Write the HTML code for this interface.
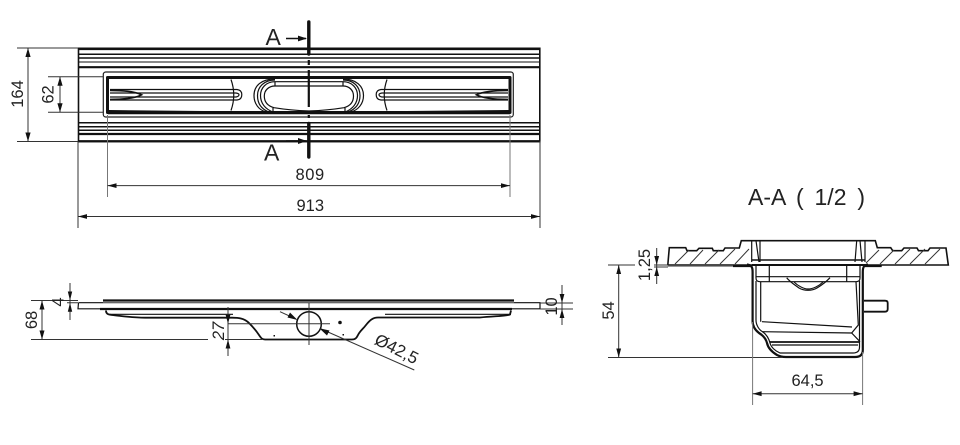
<!DOCTYPE html>
<html><head><meta charset="utf-8"><style>
html,body{margin:0;padding:0;background:#fff;width:960px;height:445px;overflow:hidden}
svg{display:block}
text{font-family:"Liberation Sans",sans-serif;fill:#222;font-size:16.5px}
.d{stroke:#333;stroke-width:1;fill:none}
.g{stroke:#777;stroke-width:1;fill:none}
.k{stroke:#111;stroke-width:1.2;fill:none}
.t{stroke:#111;stroke-width:2.2;fill:none}
.a{fill:#111;stroke:none}
</style></head><body>
<svg width="960" height="445" viewBox="0 0 960 445" xmlns="http://www.w3.org/2000/svg">
<defs>
<g id="slot">
<path class="k" d="M110 89.5H237Q241.8 90 241.8 94.7Q241.8 99.5 237 100H110"/>
<path class="k" d="M110 93H236Q239 93.5 239 94.7Q239 96.2 236 97H110"/>
<path class="t" d="M110 90.4C125 90.4 136 92 141.6 94.8C136 97.8 125 99.4 110 99.4" style="stroke-width:1.6"/>
<path class="k" d="M231 79.5Q236.5 95 231 110.5"/>
</g>
</defs>

<!-- PLAN VIEW -->
<g>
<rect x="78.5" y="48.3" width="461.3" height="93.3" fill="none" stroke="#111" stroke-width="1.6"/>
<path stroke="#111" stroke-width="1.5" fill="none" d="M78 54.2H540M78 58H540M78 122.7H540M78 126.7H540M78 130.2H540"/>
<path stroke="#111" stroke-width="1" fill="none" d="M78 62H540"/>
<path stroke="#111" stroke-width="2.2" fill="none" d="M78 49H540M78 67.2H540M78 134H540M78 141.2H540"/>
<rect x="103.3" y="72" width="410" height="45" rx="2.5" fill="#fff" stroke="#222" stroke-width="1.2"/>
<path d="M107.5 77.5H510V112.5H107.5Z" fill="#fff" stroke="#111" stroke-width="3" stroke-linejoin="round"/>
<use href="#slot"/>
<use href="#slot" transform="matrix(-1 0 0 1 618 0)"/>
<path class="a" d="M108 110L260 111.5L358 111.5L510 110V114.2H108Z"/>
<!-- centre oval -->
<path class="k" d="M275 79C261 79 254 86 254 95.5C254 104 259 110 266 112M343 79C356 79 363.5 86 363.5 95.5C363.5 104 358 110 351 112"/>
<path class="k" d="M275 80C264 80 257.5 87 257.5 95.5C257.5 103 261 109 269 112M343 80C354 80 360 87 360 95.5C360 103 356 109 348 112"/>
<path class="k" d="M275 81.7C266 81.7 260.5 88 260.5 95.5C260.5 103 265 109 273 112M343 81.7C352 81.7 357.5 88 357.5 95.5C357.5 103 353 109 345 112"/>
<path class="k" d="M275 86C269 86 264.3 90 264.3 96C264.3 102 268 106 274 107.7C285 109.5 295 110.5 309 111C323 110.5 333 109.5 344 107.7C350 106 353.5 102 353.5 96C353.5 90 349 86 343 86Z" style="fill:#fff"/>
<path class="k" d="M275 81.7H343M275 81.7V86M343 81.7V86M273 107.7V112M345 107.7V112"/>
<!-- section line -->
<path stroke="#111" stroke-width="3.4" stroke-linecap="round" fill="none" d="M308.8 22V54M308.8 123.5V157"/>
<path stroke="#111" stroke-width="2.2" fill="none" d="M308.8 60V65M308.8 70V107M308.8 115V118"/>
<path class="k" style="stroke-width:1.5" d="M286 38.5H306M286 141H306" />
<path class="a" d="M307 38.5L298 35.6V41.4ZM307 141L298 138V144Z"/>
<text x="265.5" y="45" style="font-size:23px">A</text>
<text x="264" y="160.5" style="font-size:23px">A</text>
<!-- dims -->
<path class="d" d="M17 48H78M17 141.5H78M48 76.7H103M48 112.3H103M28 48V141.5M60 76.7V112.3"/>
<path class="a" d="M28 48L25.4 57H30.6ZM28 141.5L25.4 132.5H30.6ZM60 76.7L57.4 85.7H62.6ZM60 112.3L57.4 103.3H62.6Z"/>
<text transform="translate(23,94) rotate(-90)" text-anchor="middle">164</text>
<text transform="translate(53.5,94.5) rotate(-90)" text-anchor="middle">62</text>
<path class="g" d="M107.5 115V197M510 115V197"/>
<path class="d" d="M78 141V228M540 141V228M107.5 185.6H510M78 216.5H540"/>
<path class="a" d="M107.5 185.6L116.5 183.2V188ZM510 185.6L501 183.2V188ZM78 216.5L87 214.1V218.9ZM540 216.5L531 214.1V218.9Z"/>
<text x="295.5" y="180" style="letter-spacing:.6px">809</text>
<text x="296.5" y="211">913</text>
</g>

<!-- SIDE VIEW -->
<g>
<path class="t" d="M103 300.5H514"/>
<path class="d" d="M103 302.7H514"/>
<path class="k" d="M78.5 302.7H103M78.5 302.7L78 308.8H103M514 302.7H540V308.8H512"/>
<path class="t" d="M100 309H512"/>
<path class="k" style="stroke-width:1.8" d="M106 310.5C106 314 108 314.5 112 315C122 316 132 317.7 145 317.7H232C238 317.7 244 318 249 323C254 328 257 332 259 335C261 338 262 339.5 265 339.5H352C356 339.5 357 337 358 335C360 331 363 329 366 325C370 320 373 317.5 378 317.5H480C495 316 508 316 510 314.5L511 310.5"/>
<path class="k" d="M110 314.3H233M385 314.3H511"/>
<circle cx="309" cy="324" r="12.3" fill="#fff" stroke="#111" stroke-width="1.5"/>
<path class="d" d="M228 323.7H330M309 303V345"/>
<circle cx="340" cy="322.5" r="1.8" fill="#111"/>
<rect x="273.5" y="335" width="1.5" height="1.5" fill="#111"/>
<rect x="342.5" y="334" width="1.5" height="1.5" fill="#111"/>
<path class="d" d="M31 300.5H78M31 339.5H208M225 339.5H262M42 300.5V339.5"/>
<path class="a" d="M42 300.5L39.5 309.5H44.5ZM42 339.5L39.5 330.5H44.5Z"/>
<text transform="translate(37,320) rotate(-90)" text-anchor="middle">68</text>
<path class="d" d="M70 283V320M51 300.5H78M67 302.7H78"/>
<path class="a" d="M70 300.5L67.8 291.5H72.2ZM70 302.7L67.8 311.7H72.2Z"/>
<text transform="translate(63.5,302) rotate(-90)" text-anchor="middle">4</text>
<path class="d" d="M228 307V356"/>
<path class="a" d="M228 323.7L225.6 314.7H230.4ZM228 339.5L225.6 348.5H230.4Z"/>
<text transform="translate(224,331) rotate(-90)" text-anchor="middle" style="font-style:italic">27</text>
<path class="d" d="M280 311.7L296 319M320 328.5L414.3 370"/>
<path class="a" d="M297.5 320L287.5 317.5L290 312.5ZM319.3 328.3L329.5 330.5L327 335.5Z"/>
<text transform="translate(394,354) rotate(27)" text-anchor="middle" style="font-size:17px">Ø42,5</text>
<path class="d" d="M540 303H573M540 309H573M562 285V325"/>
<path class="a" d="M562 303L559.6 294H564.4ZM562 309L559.6 318H564.4Z"/>
<text transform="translate(557,306.5) rotate(-90)" text-anchor="middle">10</text>
</g>

<!-- SECTION VIEW -->
<g>
<text x="748" y="205" style="font-size:23px;word-spacing:4.5px">A-A ( 1/2 )</text>
<path class="k" style="stroke-width:1.6" d="M667.8 265L669.3 247.7H685.7L687 250.7H696.7L699 248.3H712.3L713.3 250.7H723.3L725 248H739.3L741.3 240.7H875.3L877.3 247.7H890.7L892.7 250.7H901.7L904 248H917L918.5 250.7H928L930 248H946L948.3 265H866M752 265H667.8"/>
<path class="d" d="M675 264L689 250M690 264L703 250M705 264L719 250M720 264L735 249M735 264L749 249M866 263L879 250M880 264L894 250M895 264L910 249M910 264L925 249M925 264L940 249"/>
<path class="g" d="M667.8 266.3H733"/>
<path class="t" d="M733 266H752M864 266H881.7"/>
<path class="k" d="M751.7 240.7V262M760 240.7V262M756 240.7L759 262M856.7 240.7L855 262M865 240.7V262M860 240.7L862 262"/>
<path class="t" style="stroke-width:1.6" d="M752 260H865"/>
<path class="t" style="stroke-width:2" d="M752 265H866"/>
<path class="k" d="M756 266V278Q756 281.7 760 281.7H856Q860 281.7 860 278V266M769.3 266V281.7M846.7 266V281.7M756 276.7H860"/>
<path class="k" d="M786.7 277.7C790 282 795 285 799 288C804 291 812 291 817 288C822 285 826 282 830 277.7"/>
<path class="k" d="M794 282C798 286 804 289 808 289C813 289 819 286 823 282"/>
<path class="t" style="stroke-width:2.2" d="M747 264.5C751.5 265 752.6 267 752.6 272V321C752.6 326 755 330 759 333C764 336 766 339 767 343C768 348 772 352 777 355C780 356.7 783 357 786 357H855C860 357 862.8 355 862.8 350V272C862.8 267 864 265 868 264.5"/>
<path class="k" d="M756 281V320C756 325 759 330 763 332C767 335 769 339 770 343C771 347 775 351 780 353H853C857 353 859.5 351 859.5 347V281"/>
<path class="k" d="M760.7 281.7V321.7M856 281.7L858.3 325L851.7 333L860 341.7"/>
<path class="k" d="M762 321.7L852 327M762 331.7L852 333"/>
<path class="t" style="stroke-width:1.7" d="M770 342H859"/>
<path class="k" d="M772 345H858"/>
<path class="k" style="stroke-width:1.8" d="M864 300.7H885Q887.7 300.7 887.7 303V309Q887.7 311.7 885 311.7H864"/>
<path class="d" d="M656.7 248V284M654 265H668M654 267H668"/>
<path class="a" d="M656.7 265L654.3 256H659.1ZM656.7 267L654.3 276H659.1Z"/>
<text transform="translate(650,265) rotate(-90)" text-anchor="middle">1,25</text>
<path class="d" d="M608 265H635M608 357.5H782M618.7 265V357.5"/>
<path class="a" d="M618.7 265L616.3 274H621.1ZM618.7 357.5L616.3 348.5H621.1Z"/>
<text transform="translate(614,310.5) rotate(-90)" text-anchor="middle">54</text>
<path class="g" d="M752.6 322V405M862.6 352V405"/>
<path class="d" d="M752.6 393.7H862.6"/>
<path class="a" d="M752.6 393.7L761.6 391.3V396.1ZM862.6 393.7L853.6 391.3V396.1Z"/>
<text x="791.5" y="386">64,5</text>
</g>
</svg>
</body></html>
